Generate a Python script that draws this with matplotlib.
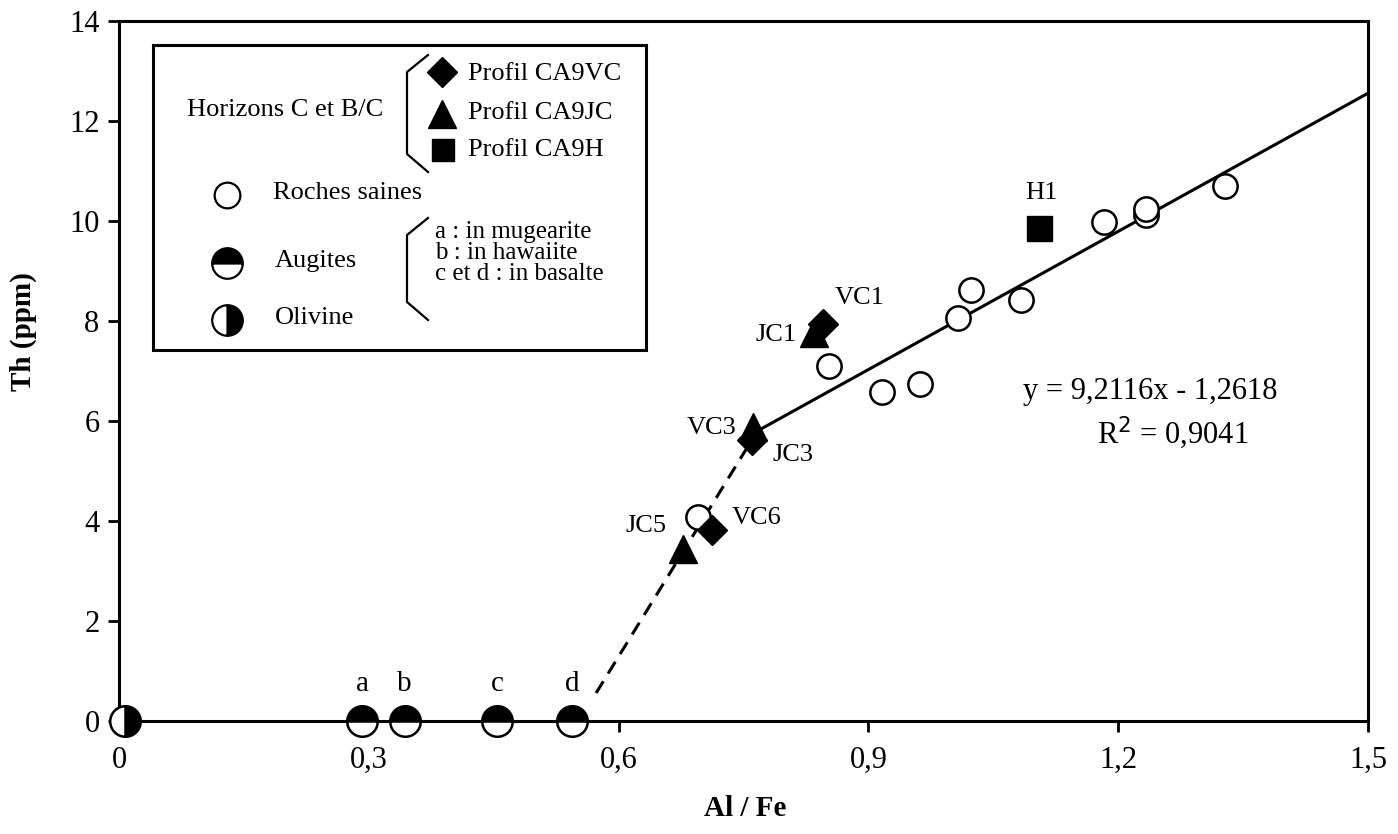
import matplotlib
matplotlib.use("Agg")
import matplotlib.pyplot as plt
from matplotlib.lines import Line2D
from matplotlib.patches import Rectangle

plt.rcParams["font.family"] = ["Liberation Serif", "DejaVu Serif"]

# --- data ---
# Roches saines (open circles)
roches_x = [0.695, 0.853, 0.916, 0.962, 1.008, 1.023, 1.083, 1.183, 1.233, 1.233, 1.328]
roches_y = [4.08, 7.10, 6.58, 6.74, 8.06, 8.62, 8.42, 9.98, 10.12, 10.24, 10.70]

# Profil CA9VC (diamonds)
vc_x = [0.845, 0.760, 0.712]
vc_y = [7.95, 5.62, 3.82]
vc_lab = ["VC1", "VC3", "VC6"]

# Profil CA9JC (triangles)
jc_x = [0.835, 0.761, 0.677]
jc_y = [7.76, 5.88, 3.44]
jc_lab = ["JC1", "JC3", "JC5"]

# Profil CA9H (square)
h_x = [1.105]
h_y = [9.86]

# Augites and olivine (on the x axis)
aug_x = [0.292, 0.343, 0.454, 0.544]
aug_y = [0, 0, 0, 0]
aug_lab = ["a", "b", "c", "d"]
oliv_x = [0.007]
oliv_y = [0]

# regression line and dashed trend
slope, intercept = 9.2116, -1.2618
fit_x = [0.773, 1.5]
dash_x = [0.573, 0.760]
dash_y = [0.56, 5.62]

xticks = [0, 0.3, 0.6, 0.9, 1.2, 1.5]
xticklabels = ["0", "0,3", "0,6", "0,9", "1,2", "1,5"]
yticks = [0, 2, 4, 6, 8, 10, 12, 14]

W, H = 1398, 834
fig = plt.figure(figsize=(W / 100, H / 100), dpi=100)
ax = fig.add_axes([119 / W, 1 - 721 / H, (1368 - 119) / W, (721 - 21) / H])
ax.set_xlim(0, 1.5)
ax.set_ylim(0, 14)

for s in ax.spines.values():
    s.set_linewidth(2.2)

ax.set_xticks(xticks)
ax.set_xticklabels(xticklabels)
ax.set_yticks(yticks)
ax.tick_params(axis="both", direction="out", length=8, width=2, labelsize=22)
ax.tick_params(axis="x", pad=10)
ax.tick_params(axis="y", pad=6)

ax.set_xlabel("Al / Fe", fontsize=21, fontweight="bold")
ax.set_ylabel("Th (ppm)", fontsize=21, fontweight="bold")
ax.xaxis.set_label_coords(0.501, -0.105)
ax.yaxis.set_label_coords(-0.066, 0.556)

# lines
fit_y = [slope * v + intercept for v in fit_x]
ax.plot(fit_x, fit_y, color="black", lw=2.2, zorder=2)
ax.plot(dash_x, dash_y, color="black", lw=2.2, dashes=(4.5, 3), zorder=2)

# points
ax.plot(roches_x, roches_y, "o", ms=17.5, mfc="white", mec="black", mew=1.8,
        ls="none", zorder=3)
ax.plot(jc_x, jc_y, "^", ms=20, color="black", ls="none", zorder=4)
ax.plot(vc_x, vc_y, "D", ms=15.5, color="black", ls="none", zorder=5)
ax.plot(h_x, h_y, "s", ms=18, color="black", ls="none", zorder=4)
ax.plot(aug_x, aug_y, "o", ms=22, fillstyle="top", mfc="black",
        markerfacecoloralt="white", mec="black", mew=1.8, ls="none",
        zorder=5, clip_on=False)
ax.plot(oliv_x, oliv_y, "o", ms=22, fillstyle="right", mfc="black",
        markerfacecoloralt="white", mec="black", mew=1.8, ls="none",
        zorder=5, clip_on=False)

# point labels
fs = 19
ax.text(0.860, 8.46, vc_lab[0], fontsize=fs, ha="left", va="center")
ax.text(0.742, 5.86, vc_lab[1], fontsize=fs, ha="right", va="center")
ax.text(0.736, 4.06, vc_lab[2], fontsize=fs, ha="left", va="center")
ax.text(0.814, 7.72, jc_lab[0], fontsize=fs, ha="right", va="center")
ax.text(0.785, 5.32, jc_lab[1], fontsize=fs, ha="left", va="center")
ax.text(0.658, 3.9, jc_lab[2], fontsize=fs, ha="right", va="center")
ax.text(1.108, 10.56, "H1", fontsize=fs, ha="center", va="center")
for xv, lab in zip(aug_x, aug_lab):
    ax.text(xv, 0.74, lab, fontsize=21, ha="center", va="center")

ax.text(1.238, 6.58, "y = 9,2116x - 1,2618", fontsize=22, ha="center", va="center")
ax.text(1.265, 5.76, "R$^{2}$ = 0,9041", fontsize=22, ha="center", va="center")


# --- hand drawn legend box, positions in reference pixels ---
def fp(x, y):
    return x / W, 1 - y / H


tf = fig.transFigure
x0, y0 = fp(153, 350)
x1, y1 = fp(646, 45)
fig.add_artist(Rectangle((x0, y0), x1 - x0, y1 - y0, transform=tf,
                         fill=True, facecolor="white", edgecolor="black",
                         lw=2.2, zorder=10))


def bracket(ytop, ybot):
    pts = [fp(428, ytop), fp(407, ytop + 17), fp(407, ybot - 18), fp(428, ybot)]
    fig.add_artist(Line2D([p[0] for p in pts], [p[1] for p in pts],
                          transform=tf, color="black", lw=1.6, zorder=11))


def key(x, y, **kw):
    fig.add_artist(Line2D([fp(x, y)[0]], [fp(x, y)[1]], transform=tf,
                          ls="none", zorder=11, **kw))


def label(x, y, s, size=19, **kw):
    fig.text(*fp(x, y), s, fontsize=size, ha="left", va="center", zorder=11, **kw)


label(187, 110, "Horizons C et B/C")
bracket(55, 172)
key(442, 72, marker="D", ms=15, color="black")
key(442, 114, marker="^", ms=20, color="black")
key(443, 150, marker="s", ms=16, color="black")
label(468, 74, "Profil CA9VC")
label(468, 113, "Profil CA9JC")
label(468, 150, "Profil CA9H")

key(227, 195, marker="o", ms=18.5, mfc="white", mec="black", mew=1.6)
label(273, 193, "Roches saines")

bracket(218, 320)
label(435, 253, "a : in mugearite\nb : in hawaiite\nc et d : in basalte",
      size=18, linespacing=0.92)

key(227, 263, marker="o", ms=22, fillstyle="top", mfc="black",
    markerfacecoloralt="white", mec="black", mew=1.6)
label(275, 261, "Augites")
key(227, 320, marker="o", ms=22, fillstyle="right", mfc="black",
    markerfacecoloralt="white", mec="black", mew=1.6)
label(275, 318, "Olivine")

fig.savefig("out.png", dpi=100)
